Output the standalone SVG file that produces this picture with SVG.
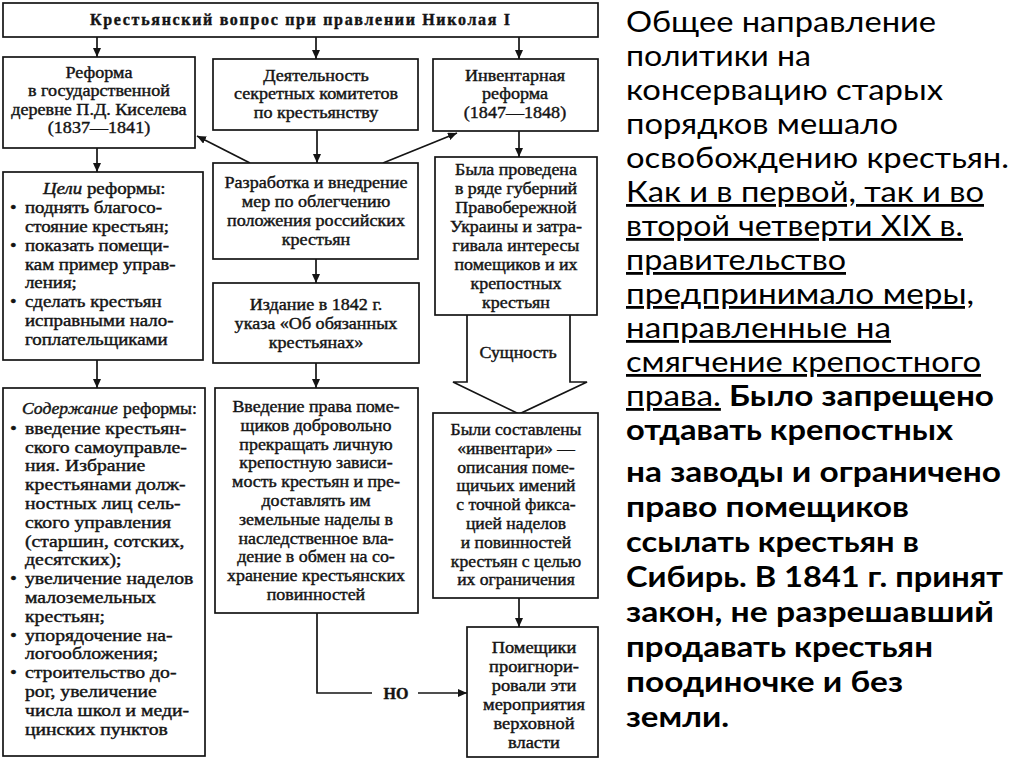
<svg xmlns="http://www.w3.org/2000/svg" width="1024" height="767" viewBox="0 0 1024 767">
<style>
.box{fill:#fff;stroke:#141414;stroke-width:1.7}
.t{font-family:"Liberation Serif","DejaVu Serif",serif;font-size:16px;fill:#141414;stroke:#141414;stroke-width:0.4}
.c{text-anchor:middle}
.conn{stroke:#141414;stroke-width:1.7;fill:none}
.r{font-family:Lato,"Open Sans",sans-serif;font-size:28px;fill:#000}
.u{text-decoration:underline}
.b{font-weight:bold}
</style>
<defs>
<marker id="ah" markerUnits="userSpaceOnUse" markerWidth="9" markerHeight="8" refX="9" refY="4" orient="auto">
<path d="M0,0 L9,4 L0,8 z" fill="#141414"/>
</marker>
</defs>
<rect width="1024" height="767" fill="#fff"/>

<g id="connectors">
<line class="conn" x1="97" y1="37" x2="97" y2="57" marker-end="url(#ah)"/>
<line class="conn" x1="316" y1="37" x2="316" y2="59" marker-end="url(#ah)"/>
<line class="conn" x1="519" y1="37" x2="519" y2="59" marker-end="url(#ah)"/>
<line class="conn" x1="317" y1="130" x2="317" y2="163" marker-end="url(#ah)"/>
<line class="conn" x1="250" y1="163" x2="197" y2="136" marker-end="url(#ah)"/>
<line class="conn" x1="383" y1="163" x2="457" y2="133" marker-end="url(#ah)"/>
<line class="conn" x1="97" y1="148" x2="97" y2="172" marker-end="url(#ah)"/>
<line class="conn" x1="97" y1="360" x2="97" y2="388" marker-end="url(#ah)"/>
<line class="conn" x1="316" y1="259" x2="316" y2="283" marker-end="url(#ah)"/>
<line class="conn" x1="316" y1="363" x2="316" y2="388" marker-end="url(#ah)"/>
<line class="conn" x1="519" y1="131" x2="519" y2="157" marker-end="url(#ah)"/>
<line class="conn" x1="519" y1="598" x2="519" y2="627" marker-end="url(#ah)"/>
<polyline class="conn" points="317,613 317,693 372,693"/>
<line class="conn" x1="418" y1="693" x2="467" y2="693" marker-end="url(#ah)"/>
<text class="t c b" x="396" y="699" font-size="18">НО</text>
<polygon points="467,315 467,382 453,382 519,414 587,382 570,382 570,315" fill="#fff" stroke="none"/>
<polyline class="conn" points="467,315 467,382 453,382 519,414 587,382 570,382 570,315"/>
<text class="t c" x="518" y="358" transform="matrix(1.12,0,0,1,-62.16,0)">Сущность</text>
</g>

<g id="title">
<rect class="box" x="3" y="3" width="595" height="34"/>
<text class="t c b" x="300" y="25" font-size="17" textLength="420" lengthAdjust="spacing">Крестьянский вопрос при правлении Николая I</text>
</g>

<g id="kiselev">
<rect class="box" x="3" y="57" width="192" height="91"/>
<g transform="matrix(1.13,0,0,1,-12.87,0)">
<text class="t c" x="99" y="78">Реформа</text>
<text class="t c" x="99" y="96.5">в государственной</text>
<text class="t c" x="99" y="115">деревне П.Д. Киселева</text>
<text class="t c" x="99" y="133.5">(1837—1841)</text>
</g>
</g>

<g id="committees">
<rect class="box" x="213" y="59" width="205" height="71"/>
<g transform="matrix(1.13,0,0,1,-41.08,0)">
<text class="t c" x="316" y="81">Деятельность</text>
<text class="t c" x="316" y="99.5">секретных комитетов</text>
<text class="t c" x="316" y="118">по крестьянству</text>
</g>
</g>

<g id="inventory">
<rect class="box" x="433" y="59" width="165" height="72"/>
<g transform="matrix(1.13,0,0,1,-66.95,0)">
<text class="t c" x="515" y="81">Инвентарная</text>
<text class="t c" x="515" y="99.5">реформа</text>
<text class="t c" x="515" y="118">(1847—1848)</text>
</g>
</g>

<g id="goals">
<rect class="box" x="3" y="172" width="200" height="188"/>
<g transform="matrix(1.18,0,0,1,-0.54,0)">
<text class="t" x="36.9" y="194"><tspan font-style="italic">Цели</tspan> реформы:</text>
<text class="t" x="8.9" y="212.9">•</text>
<text class="t" x="21.6" y="212.9">поднять благосо-</text>
<text class="t" x="21.6" y="231.8">стояние крестьян;</text>
<text class="t" x="8.9" y="250.7">•</text>
<text class="t" x="21.6" y="250.7">показать помещи-</text>
<text class="t" x="21.6" y="269.6">кам пример управ-</text>
<text class="t" x="21.6" y="288.5">ления;</text>
<text class="t" x="8.9" y="307.4">•</text>
<text class="t" x="21.6" y="307.4">сделать крестьян</text>
<text class="t" x="21.6" y="326.3">исправными нало-</text>
<text class="t" x="21.6" y="345.2">гоплательщиками</text>
</g>
</g>

<g id="content">
<rect class="box" x="3" y="388" width="202" height="368"/>
<g transform="matrix(1.23,0,0,1,-0.69,0)">
<text class="t" x="18.45" y="414" font-style="italic" textLength="78" lengthAdjust="spacingAndGlyphs">Содержание</text>
<text class="t" x="100.6" y="414" textLength="60" lengthAdjust="spacingAndGlyphs">реформы:</text>
<text class="t" x="8.7" y="433.8">•</text>
<text class="t" x="20.9" y="433.8">введение крестьян-</text>
<text class="t" x="20.9" y="452.6">ского самоуправле-</text>
<text class="t" x="20.9" y="471.4">ния. Избрание</text>
<text class="t" x="20.9" y="490.2">крестьянами долж-</text>
<text class="t" x="20.9" y="509">ностных лиц сель-</text>
<text class="t" x="20.9" y="527.8">ского управления</text>
<text class="t" x="20.9" y="546.6">(старшин, сотских,</text>
<text class="t" x="20.9" y="565.4">десятских);</text>
<text class="t" x="8.7" y="584.2">•</text>
<text class="t" x="20.9" y="584.2">увеличение наделов</text>
<text class="t" x="20.9" y="603">малоземельных</text>
<text class="t" x="20.9" y="621.8">крестьян;</text>
<text class="t" x="8.7" y="640.6">•</text>
<text class="t" x="20.9" y="640.6">упорядочение на-</text>
<text class="t" x="20.9" y="659.4">логообложения;</text>
<text class="t" x="8.7" y="678.2">•</text>
<text class="t" x="20.9" y="678.2">строительство до-</text>
<text class="t" x="20.9" y="697">рог, увеличение</text>
<text class="t" x="20.9" y="715.8">числа школ и меди-</text>
<text class="t" x="20.9" y="734.6">цинских пунктов</text>
</g>
</g>

<g id="development">
<rect class="box" x="213" y="163" width="205" height="96"/>
<g transform="matrix(1.13,0,0,1,-41.08,0)">
<text class="t c" x="316" y="188">Разработка и внедрение</text>
<text class="t c" x="316" y="207">мер по облегчению</text>
<text class="t c" x="316" y="226">положения российских</text>
<text class="t c" x="316" y="245">крестьян</text>
</g>
</g>

<g id="decree">
<rect class="box" x="213" y="283" width="206" height="80"/>
<g transform="matrix(1.13,0,0,1,-41.08,0)">
<text class="t c" x="316" y="310">Издание в 1842 г.</text>
<text class="t c" x="316" y="329">указа «Об обязанных</text>
<text class="t c" x="316" y="348">крестьянах»</text>
</g>
</g>

<g id="right-introduction">
<rect class="box" x="215" y="388" width="203" height="225"/>
<g transform="matrix(1.12,0,0,1,-37.92,0)">
<text class="t c" x="316" y="412">Введение права поме-</text>
<text class="t c" x="316" y="430.8">щиков добровольно</text>
<text class="t c" x="316" y="449.6">прекращать личную</text>
<text class="t c" x="316" y="468.4">крепостную зависи-</text>
<text class="t c" x="316" y="487.2">мость крестьян и пре-</text>
<text class="t c" x="316" y="506">доставлять им</text>
<text class="t c" x="316" y="524.8">земельные наделы в</text>
<text class="t c" x="316" y="543.6">наследственное вла-</text>
<text class="t c" x="316" y="562.4">дение в обмен на со-</text>
<text class="t c" x="316" y="581.2">хранение крестьянских</text>
<text class="t c" x="316" y="600">повинностей</text>
</g>
</g>

<g id="conducted">
<rect class="box" x="435" y="157" width="162" height="158"/>
<g transform="matrix(1.12,0,0,1,-61.92,0)">
<text class="t c" x="516" y="175">Была проведена</text>
<text class="t c" x="516" y="194">в ряде губерний</text>
<text class="t c" x="516" y="213">Правобережной</text>
<text class="t c" x="516" y="232">Украины и затра-</text>
<text class="t c" x="516" y="251">гивала интересы</text>
<text class="t c" x="516" y="270">помещиков и их</text>
<text class="t c" x="516" y="289">крепостных</text>
<text class="t c" x="516" y="308">крестьян</text>
</g>
</g>

<g id="inventories">
<rect class="box" x="433" y="413" width="165" height="185"/>
<g transform="matrix(1.1,0,0,1,-51.6,0)">
<text class="t c" x="516" y="435">Были составлены</text>
<text class="t c" x="516" y="453.8">«инвентари» —</text>
<text class="t c" x="516" y="472.6">описания поме-</text>
<text class="t c" x="516" y="491.4">щичьих имений</text>
<text class="t c" x="516" y="510.2">с точной фикса-</text>
<text class="t c" x="516" y="529">цией наделов</text>
<text class="t c" x="516" y="547.8">и повинностей</text>
<text class="t c" x="516" y="566.6">крестьян с целью</text>
<text class="t c" x="516" y="585.4">их ограничения</text>
</g>
</g>

<g id="ignored">
<rect class="box" x="467" y="627" width="131" height="130"/>
<g transform="matrix(1.15,0,0,1,-80.1,0)">
<text class="t c" x="534" y="653">Помещики</text>
<text class="t c" x="534" y="672">проигнори-</text>
<text class="t c" x="534" y="691">ровали эти</text>
<text class="t c" x="534" y="710">мероприятия</text>
<text class="t c" x="534" y="729">верховной</text>
<text class="t c" x="534" y="748">власти</text>
</g>
</g>

<g id="side-text">
<text class="r" x="626" y="32" textLength="310" lengthAdjust="spacingAndGlyphs">Общее направление</text>
<text class="r" x="626" y="66" textLength="185" lengthAdjust="spacingAndGlyphs">политики на</text>
<text class="r" x="626" y="100" textLength="317" lengthAdjust="spacingAndGlyphs">консервацию старых</text>
<text class="r" x="626" y="134" textLength="272" lengthAdjust="spacingAndGlyphs">порядков мешало</text>
<text class="r" x="626" y="168" textLength="383" lengthAdjust="spacingAndGlyphs">освобождению крестьян.</text>
<text class="r u" x="626" y="202" textLength="358" lengthAdjust="spacingAndGlyphs">Как и в первой, так и во</text>
<text class="r u" x="626" y="236" textLength="337" lengthAdjust="spacingAndGlyphs">второй четверти XIX в.</text>
<text class="r u" x="626" y="270" textLength="220" lengthAdjust="spacingAndGlyphs">правительство</text>
<text class="r u" x="626" y="304" textLength="348" lengthAdjust="spacingAndGlyphs">предпринимало меры,</text>
<text class="r u" x="626" y="338" textLength="265" lengthAdjust="spacingAndGlyphs">направленные на</text>
<text class="r u" x="626" y="372" textLength="355" lengthAdjust="spacingAndGlyphs">смягчение крепостного</text>
<text class="r" x="626" y="406" textLength="368" lengthAdjust="spacingAndGlyphs"><tspan class="u">права.</tspan><tspan class="b"> Было запрещено</tspan></text>
<text class="r b" x="626" y="440" textLength="327" lengthAdjust="spacingAndGlyphs">отдавать крепостных</text>
<text class="r b" x="626" y="482" textLength="375" lengthAdjust="spacingAndGlyphs">на заводы и ограничено</text>
<text class="r b" x="626" y="517" textLength="283" lengthAdjust="spacingAndGlyphs">право помещиков</text>
<text class="r b" x="626" y="552" textLength="293" lengthAdjust="spacingAndGlyphs">ссылать крестьян в</text>
<text class="r b" x="626" y="587" textLength="377" lengthAdjust="spacingAndGlyphs">Сибирь. В 1841 г. принят</text>
<text class="r b" x="626" y="622" textLength="368" lengthAdjust="spacingAndGlyphs">закон, не разрешавший</text>
<text class="r b" x="626" y="657" textLength="307" lengthAdjust="spacingAndGlyphs">продавать крестьян</text>
<text class="r b" x="626" y="692" textLength="277" lengthAdjust="spacingAndGlyphs">поодиночке и без</text>
<text class="r b" x="626" y="727" textLength="103" lengthAdjust="spacingAndGlyphs">земли.</text>
</g>
</svg>
